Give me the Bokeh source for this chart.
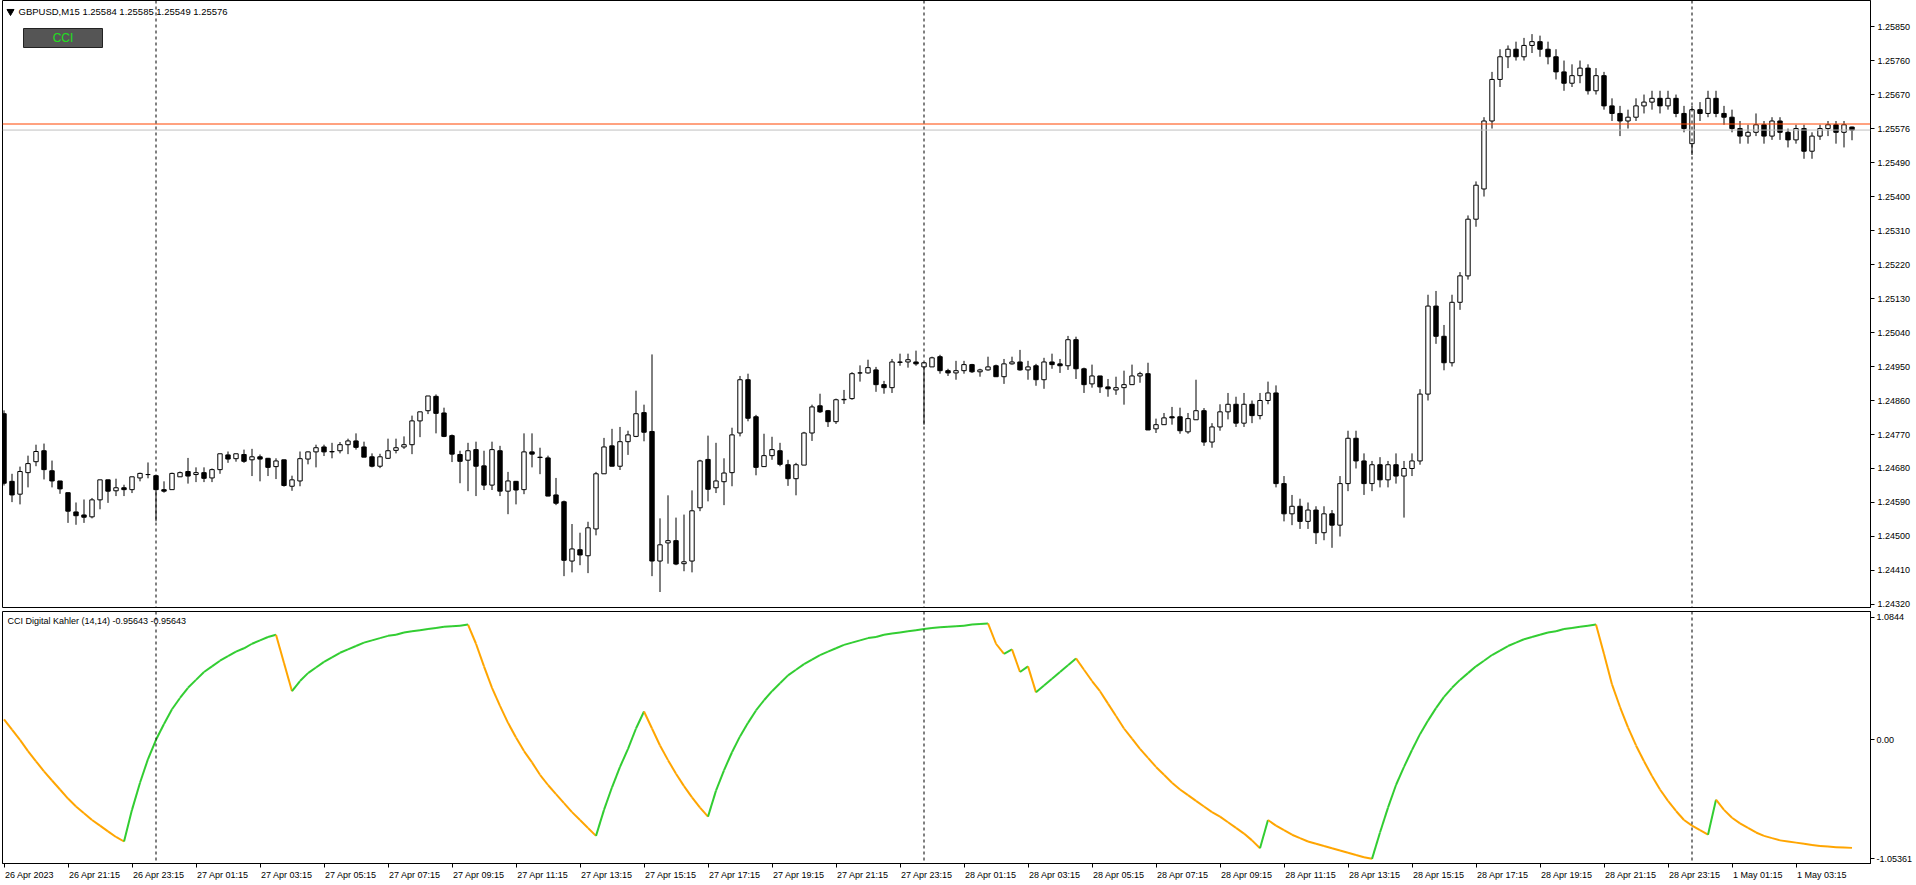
from bokeh.plotting import figure
from bokeh.models import (Range1d, FixedTicker, PrintfTickFormatter, Span, Label,
                          ColumnDataSource, LinearAxis, CustomJSTickFormatter)
from bokeh.layouts import column
from bokeh.embed import file_html
from bokeh.resources import INLINE

# ---------------- data ----------------
symbol_caption = "GBPUSD,M15  1.25584 1.25585 1.25549 1.25576"
indicator_caption = "CCI Digital Kahler (14,14) -0.95643 -0.95643"

open_ = [1.24825,1.24646,1.24612,1.24669,1.24698,1.24727,1.24674,1.24647,1.24616,1.24565,
1.24557,1.24552,1.24597,1.24650,1.24621,1.24629,1.24624,1.24655,1.24664,1.24661,
1.24624,1.24624,1.24658,1.24672,1.24664,1.24669,1.24655,1.24677,1.24716,1.24706,
1.24717,1.24703,1.24711,1.24707,1.24685,1.24703,1.24633,1.24647,1.24705,1.24724,
1.24737,1.24724,1.24727,1.24743,1.24753,1.24737,1.24711,1.24686,1.24707,1.24728,
1.24737,1.24743,1.24806,1.24833,1.24871,1.24827,1.24767,1.24717,1.24702,1.24730,
1.24687,1.24636,1.24727,1.24620,1.24646,1.24624,1.24724,1.24710,1.24708,1.24610,
1.24592,1.24435,1.24465,1.24449,1.24520,1.24666,1.24740,1.24686,1.24751,1.24765,
1.24828,1.24778,1.24435,1.24483,1.24489,1.24428,1.24435,1.24576,1.24704,1.24629,
1.24645,1.24669,1.24774,1.24915,1.24817,1.24685,1.24714,1.24727,1.24690,1.24653,
1.24689,1.24774,1.24846,1.24833,1.24804,1.24862,1.24865,1.24933,1.24933,1.24941,
1.24902,1.24894,1.24962,1.24962,1.24962,1.24949,1.24949,1.24976,1.24939,1.24933,
1.24939,1.24955,1.24936,1.24941,1.24952,1.24923,1.24957,1.24962,1.24941,1.24952,
1.24915,1.24962,1.24957,1.24952,1.25021,1.24944,1.24904,1.24925,1.24896,1.24888,
1.24894,1.24902,1.24925,1.24931,1.24785,1.24796,1.24817,1.24817,1.24777,1.24809,
1.24833,1.24750,1.24790,1.24830,1.24850,1.24800,1.24850,1.24820,1.24860,1.24880,
1.24640,1.24560,1.24580,1.24540,1.24570,1.24510,1.24560,1.24530,1.24640,1.24760,
1.24700,1.24640,1.24690,1.24650,1.24690,1.24660,1.24680,1.24700,1.24877,1.25110,
1.25030,1.24960,1.25120,1.25190,1.25340,1.25420,1.25600,1.25710,1.25770,1.25790,
1.25770,1.25800,1.25810,1.25790,1.25770,1.25730,1.25700,1.25720,1.25740,1.25680,
1.25720,1.25640,1.25620,1.25600,1.25610,1.25640,1.25650,1.25660,1.25640,1.25660,
1.25620,1.25540,1.25630,1.25620,1.25660,1.25620,1.25610,1.25580,1.25560,1.25570,
1.25590,1.25560,1.25600,1.25570,1.25550,1.25580,1.25520,1.25560,1.25580,1.25590,
1.25570,1.25584]
high = [1.24834,1.24666,1.24685,1.24714,1.24743,1.24746,1.24701,1.24647,1.24616,1.24590,
1.24598,1.24602,1.24650,1.24650,1.24653,1.24637,1.24658,1.24669,1.24696,1.24661,
1.24646,1.24669,1.24672,1.24708,1.24683,1.24683,1.24680,1.24719,1.24725,1.24719,
1.24730,1.24732,1.24717,1.24708,1.24707,1.24703,1.24661,1.24725,1.24725,1.24743,
1.24743,1.24748,1.24750,1.24759,1.24773,1.24751,1.24720,1.24719,1.24759,1.24759,
1.24765,1.24820,1.24830,1.24872,1.24876,1.24841,1.24770,1.24727,1.24748,1.24751,
1.24727,1.24751,1.24740,1.24671,1.24647,1.24773,1.24773,1.24735,1.24714,1.24655,
1.24595,1.24533,1.24510,1.24539,1.24671,1.24761,1.24785,1.24790,1.24780,1.24886,
1.24849,1.24982,1.24548,1.24609,1.24550,1.24558,1.24622,1.24703,1.24767,1.24748,
1.24707,1.24788,1.24925,1.24931,1.24822,1.24772,1.24764,1.24748,1.24703,1.24695,
1.24777,1.24849,1.24878,1.24835,1.24865,1.24888,1.24935,1.24953,1.24968,1.24949,
1.24912,1.24970,1.24984,1.24984,1.24992,1.24960,1.24976,1.24981,1.24944,1.24965,
1.24965,1.24957,1.24944,1.24976,1.24955,1.24970,1.24976,1.24994,1.24965,1.24957,
1.24973,1.24984,1.24970,1.25031,1.25029,1.24947,1.24955,1.24925,1.24917,1.24923,
1.24939,1.24955,1.24936,1.24960,1.24812,1.24827,1.24843,1.24841,1.24827,1.24915,
1.24840,1.24800,1.24850,1.24880,1.24870,1.24880,1.24860,1.24880,1.24910,1.24900,
1.24660,1.24610,1.24600,1.24590,1.24580,1.24580,1.24570,1.24660,1.24780,1.24780,
1.24720,1.24700,1.24710,1.24700,1.24720,1.24700,1.24720,1.24890,1.25140,1.25150,
1.25060,1.25140,1.25200,1.25350,1.25440,1.25610,1.25730,1.25790,1.25800,1.25810,
1.25820,1.25830,1.25826,1.25810,1.25790,1.25760,1.25750,1.25760,1.25750,1.25740,
1.25730,1.25660,1.25640,1.25630,1.25660,1.25670,1.25680,1.25680,1.25680,1.25670,
1.25640,1.25640,1.25650,1.25680,1.25680,1.25640,1.25630,1.25600,1.25590,1.25620,
1.25600,1.25610,1.25610,1.25580,1.25590,1.25590,1.25570,1.25590,1.25600,1.25600,
1.25600,1.25585]
low = [1.24635,1.24591,1.24585,1.24630,1.24686,1.24651,1.24630,1.24613,1.24536,1.24531,
1.24536,1.24548,1.24572,1.24589,1.24607,1.24607,1.24615,1.24646,1.24654,1.24540,
1.24616,1.24624,1.24658,1.24640,1.24644,1.24644,1.24644,1.24666,1.24695,1.24698,
1.24695,1.24660,1.24646,1.24660,1.24652,1.24632,1.24621,1.24633,1.24691,1.24683,
1.24713,1.24707,1.24720,1.24718,1.24730,1.24710,1.24683,1.24681,1.24705,1.24720,
1.24732,1.24718,1.24763,1.24824,1.24773,1.24763,1.24697,1.24641,1.24620,1.24607,
1.24623,1.24623,1.24607,1.24559,1.24585,1.24612,1.24683,1.24665,1.24607,1.24583,
1.24395,1.24405,1.24424,1.24403,1.24503,1.24666,1.24686,1.24676,1.24716,1.24763,
1.24752,1.24395,1.24353,1.24428,1.24424,1.24408,1.24405,1.24567,1.24593,1.24615,
1.24583,1.24633,1.24765,1.24805,1.24662,1.24685,1.24703,1.24686,1.24634,1.24609,
1.24689,1.24753,1.24827,1.24790,1.24798,1.24851,1.24862,1.24910,1.24931,1.24883,
1.24878,1.24880,1.24952,1.24947,1.24952,1.24796,1.24949,1.24931,1.24925,1.24915,
1.24931,1.24933,1.24923,1.24939,1.24923,1.24904,1.24955,1.24939,1.24915,1.24899,
1.24891,1.24944,1.24933,1.24941,1.24917,1.24880,1.24894,1.24880,1.24870,1.24875,
1.24849,1.24902,1.24907,1.24782,1.24774,1.24796,1.24796,1.24772,1.24772,1.24809,
1.24740,1.24735,1.24780,1.24810,1.24790,1.24790,1.24800,1.24810,1.24850,1.24630,
1.24540,1.24530,1.24520,1.24520,1.24480,1.24490,1.24470,1.24500,1.24620,1.24680,
1.24610,1.24620,1.24630,1.24630,1.24640,1.24550,1.24660,1.24690,1.24860,1.25010,
1.24940,1.24950,1.25100,1.25180,1.25320,1.25400,1.25580,1.25690,1.25740,1.25760,
1.25760,1.25780,1.25770,1.25750,1.25710,1.25680,1.25690,1.25700,1.25670,1.25670,
1.25630,1.25600,1.25560,1.25580,1.25600,1.25620,1.25630,1.25620,1.25630,1.25610,
1.25570,1.25510,1.25600,1.25610,1.25610,1.25590,1.25570,1.25540,1.25540,1.25560,
1.25540,1.25550,1.25550,1.25530,1.25540,1.25500,1.25500,1.25550,1.25560,1.25540,
1.25530,1.25549]
close = [1.24641,1.24610,1.24672,1.24693,1.24725,1.24677,1.24647,1.24626,1.24567,1.24555,
1.24551,1.24597,1.24650,1.24620,1.24629,1.24624,1.24658,1.24667,1.24664,1.24624,
1.24620,1.24667,1.24669,1.24660,1.24669,1.24654,1.24677,1.24719,1.24705,1.24719,
1.24699,1.24711,1.24705,1.24683,1.24700,1.24635,1.24650,1.24706,1.24724,1.24735,
1.24724,1.24725,1.24743,1.24753,1.24736,1.24710,1.24686,1.24711,1.24727,1.24735,
1.24743,1.24806,1.24830,1.24872,1.24826,1.24765,1.24718,1.24699,1.24727,1.24686,
1.24636,1.24730,1.24620,1.24647,1.24623,1.24724,1.24718,1.24709,1.24607,1.24588,
1.24437,1.24467,1.24451,1.24523,1.24666,1.24737,1.24686,1.24751,1.24769,1.24825,
1.24776,1.24435,1.24478,1.24489,1.24427,1.24433,1.24568,1.24700,1.24625,1.24647,
1.24668,1.24769,1.24915,1.24813,1.24683,1.24714,1.24730,1.24691,1.24653,1.24690,
1.24774,1.24843,1.24830,1.24804,1.24862,1.24863,1.24931,1.24933,1.24947,1.24902,
1.24894,1.24962,1.24961,1.24968,1.24957,1.24960,1.24973,1.24939,1.24933,1.24939,
1.24955,1.24936,1.24941,1.24949,1.24923,1.24957,1.24962,1.24941,1.24949,1.24915,
1.24962,1.24955,1.24952,1.25021,1.24944,1.24902,1.24925,1.24896,1.24891,1.24894,
1.24902,1.24925,1.24931,1.24782,1.24796,1.24814,1.24814,1.24780,1.24812,1.24833,
1.24750,1.24790,1.24830,1.24850,1.24800,1.24850,1.24820,1.24860,1.24880,1.24640,
1.24560,1.24580,1.24540,1.24570,1.24510,1.24560,1.24530,1.24640,1.24760,1.24700,
1.24640,1.24690,1.24650,1.24690,1.24660,1.24680,1.24700,1.24877,1.25110,1.25030,
1.24960,1.25120,1.25190,1.25340,1.25430,1.25600,1.25710,1.25770,1.25790,1.25770,
1.25800,1.25810,1.25790,1.25770,1.25730,1.25700,1.25720,1.25740,1.25680,1.25720,
1.25640,1.25620,1.25600,1.25610,1.25640,1.25650,1.25660,1.25640,1.25660,1.25620,
1.25580,1.25630,1.25620,1.25660,1.25620,1.25610,1.25580,1.25560,1.25570,1.25590,
1.25560,1.25600,1.25570,1.25550,1.25580,1.25520,1.25560,1.25580,1.25590,1.25570,
1.25590,1.25576]

cci = [0.18,0.09,0.00,-0.10,-0.19,-0.28,-0.36,-0.44,-0.52,-0.59,-0.65,-0.71,-0.76,-0.81,-0.86,-0.90,
-0.62,-0.38,-0.17,0.00,0.14,0.27,0.37,0.46,0.53,0.60,0.65,0.70,0.74,0.78,0.81,0.85,0.88,0.91,0.93,
0.68,0.43,
0.52,0.59,0.64,0.69,0.73,0.77,0.80,0.83,0.86,0.88,0.90,0.92,0.93,0.95,0.96,0.97,0.98,0.99,1.00,1.005,1.01,1.02,
0.85,0.65,0.46,0.30,0.15,0.02,-0.10,-0.20,-0.31,-0.40,-0.48,-0.56,-0.64,-0.71,-0.78,-0.85,
-0.62,-0.42,-0.24,-0.08,0.10,0.25,
0.10,-0.05,-0.18,-0.30,-0.41,-0.51,-0.60,-0.68,
-0.45,-0.27,-0.11,0.03,0.15,0.26,0.35,0.43,0.50,0.57,0.62,0.67,0.71,0.75,0.78,0.81,0.84,0.86,0.88,0.90,
0.91,0.93,0.94,0.95,0.96,0.97,0.98,0.99,0.995,1.00,1.005,1.01,1.02,1.025,1.03,
0.85,0.76,0.80,0.60,0.65,0.42,0.48,0.54,0.60,0.66,0.72,
0.62,0.52,0.43,0.32,0.21,0.10,0.01,-0.08,-0.16,-0.24,-0.31,-0.38,-0.44,-0.49,-0.54,-0.59,-0.64,-0.68,-0.73,-0.78,-0.83,-0.89,-0.96,
-0.71,
-0.76,-0.80,-0.84,-0.87,-0.90,-0.92,-0.94,-0.96,-0.98,-1.00,-1.02,-1.04,-1.05361,
-0.82,-0.60,-0.40,-0.24,-0.09,0.05,0.17,0.28,0.38,0.46,0.53,0.59,0.65,0.70,0.75,0.79,0.83,0.86,0.89,0.91,0.93,0.95,0.96,0.98,0.99,1.00,1.01,1.02,
0.76,0.49,0.29,0.11,-0.05,-0.19,-0.32,-0.44,-0.54,-0.63,-0.71,-0.76,-0.80,-0.84,
-0.53,
-0.62,-0.69,-0.74,-0.78,-0.82,-0.85,-0.87,-0.89,-0.90,-0.91,-0.92,-0.93,-0.94,-0.945,-0.95,-0.953,-0.95643]

# time axis labels (every 8th M15 bar) and day separators (bar index of 00:00)
time_tick_bars = [0,8,16,24,32,40,48,56,64,72,80,88,96,104,112,120,128,136,144,152,160,168,176,184,192,200,208,216,224]
time_tick_labels = ["26 Apr 2023","26 Apr 21:15","26 Apr 23:15","27 Apr 01:15","27 Apr 03:15","27 Apr 05:15",
"27 Apr 07:15","27 Apr 09:15","27 Apr 11:15","27 Apr 13:15","27 Apr 15:15","27 Apr 17:15","27 Apr 19:15",
"27 Apr 21:15","27 Apr 23:15","28 Apr 01:15","28 Apr 03:15","28 Apr 05:15","28 Apr 07:15","28 Apr 09:15",
"28 Apr 11:15","28 Apr 13:15","28 Apr 15:15","28 Apr 17:15","28 Apr 19:15","28 Apr 21:15","28 Apr 23:15",
"1 May 01:15","1 May 03:15"]
day_start_bars = [19, 115, 211]

price_ticks = [1.24320,1.24410,1.24500,1.24590,1.24680,1.24770,1.24860,1.24950,1.25040,
               1.25130,1.25220,1.25310,1.25400,1.25490,1.25580,1.25670,1.25760,1.25850]
price_min_view = 1.24312
price_max_view = 1.25919
ask_price = 1.25592
bid_price = 1.25576
cci_ticks = [-1.05361, 0.0, 1.0844]
cci_tick_labels = ["-1.05361", "0.00", "1.0844"]
cci_min_view = -1.0947
cci_max_view = 1.1354

# ---------------- layout ----------------
FONT = "Liberation Sans"
W = 1916
LB = 2
RB = 46
FRAME_W = W - LB - RB
X0 = -0.1875
X1 = X0 + FRAME_W / 8.0
xr = Range1d(X0, X1)

def style_axis(ax):
    ax.axis_line_color = "black"
    ax.major_tick_line_color = "black"
    ax.major_tick_out = 4
    ax.major_tick_in = 0
    ax.minor_tick_line_color = None
    ax.major_label_text_font = FONT
    ax.major_label_text_font_size = "9px"
    ax.major_label_text_color = "black"
    ax.major_label_standoff = 3

H1 = 608
p1 = figure(width=W, height=H1, x_range=xr, y_range=Range1d(price_min_view, price_max_view),
            y_axis_location="right", x_axis_location=None, toolbar_location=None,
            output_backend="svg", min_border_left=LB, min_border_right=RB,
            min_border_top=0, min_border_bottom=1)
p1.grid.visible = False
p1.outline_line_color = "black"
p1.background_fill_color = "white"
p1.border_fill_color = "white"
p1.yaxis.ticker = FixedTicker(ticks=price_ticks)
p1.yaxis.formatter = PrintfTickFormatter(format="%.5f")
# the bid-price marker on the price scale sits over the 1.25580 level
p1.yaxis.major_label_overrides = {1.25580: "%.5f" % bid_price}
style_axis(p1.yaxis[0])

n = len(close)
xs = list(range(n))
up = [close[i] >= open_[i] for i in xs]
src_all = ColumnDataSource(dict(x=xs, low=low, high=high))
src_up = ColumnDataSource(dict(x=[i for i in xs if up[i]],
                               top=[close[i] for i in xs if up[i]],
                               bottom=[open_[i] for i in xs if up[i]]))
src_dn = ColumnDataSource(dict(x=[i for i in xs if not up[i]],
                               top=[open_[i] for i in xs if not up[i]],
                               bottom=[close[i] for i in xs if not up[i]]))

p1.add_layout(Span(location=ask_price, dimension="width", line_color="#FF4500", line_width=1))
p1.add_layout(Span(location=bid_price, dimension="width", line_color="#C0C0C0", line_width=1))
for d in day_start_bars:
    p1.add_layout(Span(location=d, dimension="height", line_color="black", line_width=1, line_dash="3 3"))

p1.segment(x0="x", y0="low", x1="x", y1="high", source=src_all, line_color="black", line_width=1)
p1.vbar(x="x", top="top", bottom="bottom", width=0.55, source=src_up,
        fill_color="white", line_color="black", line_width=1)
p1.vbar(x="x", top="top", bottom="bottom", width=0.55, source=src_dn,
        fill_color="black", line_color="black", line_width=1)

# helpers to place decorations at reference pixel positions
FH1 = H1 - 1
def xd(px):
    return X0 + (px - LB) / 8.0
def yd1(py):
    return price_max_view - py / FH1 * (price_max_view - price_min_view)

p1.scatter(x=[xd(10)], y=[yd1(11)], marker="inverted_triangle", size=7,
           fill_color="black", line_color="black")
p1.add_layout(Label(x=xd(18), y=yd1(11), text=symbol_caption, text_font=FONT,
                    text_font_size="9.5px", text_color="black", text_baseline="middle"))
p1.rect(x=[xd(62.5)], y=[yd1(37.5)], width=79, height=19, width_units="screen",
        height_units="screen", fill_color="#555555", line_color="#222222", line_width=1)
p1.add_layout(Label(x=xd(62.5), y=yd1(37.5), text="CCI", text_font=FONT,
                    text_font_size="12px", text_color="#1EE01E", text_align="center",
                    text_baseline="middle"))

# ---------------- indicator panel ----------------
p2 = figure(width=W, height=885 - H1, x_range=xr, y_range=Range1d(cci_min_view, cci_max_view),
            y_axis_location="right", x_axis_location="below", toolbar_location=None,
            output_backend="svg", min_border_left=LB, min_border_right=RB,
            min_border_top=3, min_border_bottom=22)
p2.grid.visible = False
p2.outline_line_color = "black"
p2.yaxis.ticker = FixedTicker(ticks=cci_ticks)
p2.yaxis.major_label_overrides = {t: l for t, l in zip(cci_ticks, cci_tick_labels)}
style_axis(p2.yaxis[0])
p2.yaxis.major_label_standoff = 2

# time axis: tick marks at the bars, labels start at the tick (left aligned)
p2.xaxis.ticker = FixedTicker(ticks=time_tick_bars)
style_axis(p2.xaxis[0])
p2.xaxis.formatter = CustomJSTickFormatter(code="return '';")
p2.xaxis.major_label_text_font_size = "0px"
p2.xaxis.major_label_standoff = 0

CW = {" ": 0.278, ":": 0.278, "A": 0.667, "p": 0.556, "r": 0.333, "M": 0.833, "a": 0.556, "y": 0.5}
def text_w(s, fs=9.0):
    return sum(CW.get(ch, 0.556) for ch in s) * fs
label_centres = [k + (text_w(s) / 2.0 + 1.0) / 8.0 for k, s in zip(time_tick_bars, time_tick_labels)]
lab_axis = LinearAxis(ticker=FixedTicker(ticks=label_centres),
                      formatter=CustomJSTickFormatter(args=dict(labels=time_tick_labels),
                                                      code="return labels[index];"))
style_axis(lab_axis)
lab_axis.axis_line_color = None
lab_axis.major_tick_line_color = None
lab_axis.major_tick_out = 0
lab_axis.major_label_standoff = 2
p2.add_layout(lab_axis, "below")

for d in day_start_bars:
    p2.add_layout(Span(location=d, dimension="height", line_color="black", line_width=1, line_dash="3 3"))

seg = dict(x0=[], x1=[], y0=[], y1=[], c=[])
for i in range(1, n):
    seg["x0"].append(i - 1); seg["x1"].append(i)
    seg["y0"].append(cci[i - 1]); seg["y1"].append(cci[i])
    seg["c"].append("#32CD32" if cci[i] > cci[i - 1] else "#FFA500")
p2.segment(x0="x0", y0="y0", x1="x1", y1="y1", line_color="c", line_width=2,
           source=ColumnDataSource(seg))

FT2 = 611
FH2 = 252
def yd2(py):
    return cci_max_view - (py - FT2) / FH2 * (cci_max_view - cci_min_view)
p2.add_layout(Label(x=xd(7), y=yd2(620), text=indicator_caption, text_font=FONT,
                    text_font_size="9px", text_color="black", text_baseline="middle"))

layout = column(p1, p2)
open("out.html", "w").write(file_html(layout, INLINE))
